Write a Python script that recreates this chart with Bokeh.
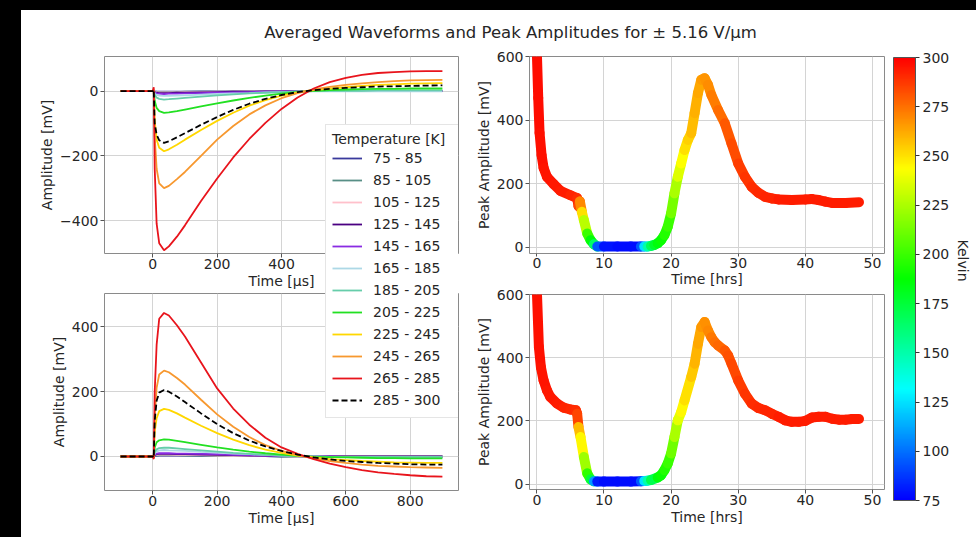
import colorsys
import math

from bokeh.plotting import figure
from bokeh.models import (ColumnDataSource, Legend, LegendItem, FixedTicker, Range1d,
                          ColorBar, LinearColorMapper, Label, GridBox, CustomJSTickFormatter)
from bokeh.layouts import column, row
from bokeh.transform import linear_cmap
from bokeh.embed import file_html
from bokeh.resources import INLINE

# ---------------- data ----------------
TITLE = "Averaged Waveforms and Peak Amplitudes for \u00b1 5.16 V/\u03bcm"

TEMP_BINS = ["75 - 85", "85 - 105", "105 - 125", "125 - 145", "145 - 165", "165 - 185",
             "185 - 205", "205 - 225", "225 - 245", "245 - 265", "265 - 285", "285 - 300"]
BIN_COLORS = ["#3a3a9c", "#588f86", "#ffc0cb", "#4b0082", "#8a2be2", "#add8e6",
              "#66cdaa", "#22e022", "#ffd700", "#f7982f", "#e8141c", "#000000"]

# waveform sample times [us]
WF_T = [-100, 0, 3, 6, 12, 20, 35, 50, 75, 100, 150, 200, 250, 300, 350, 400, 450,
        500, 550, 600, 650, 700, 750, 800, 850, 900]

# negative-polarity averaged waveforms [mV], one list per temperature bin
WF_NEG = [
    [0, 0, 0, -1, -2, -2, -2, -2, -2, -2, -1, -1, -1, -1, 0, 0, 0, 0, 0, 0, 0, 0, 0, 0, 0, 0],
    [0, 0, 0, -1, -2, -3, -3, -3, -3, -2, -2, -2, -1, -1, -1, 0, 0, 0, 0, 0, 0, 0, 0, 0, 0, 0],
    [0, 0, 0, -2, -3, -4, -4, -4, -4, -3, -3, -2, -2, -1, -1, 0, 0, 0, 0, 0, 0, 0, 0, 0, 0, 0],
    [0, 0, 0, -3, -5, -6, -6, -6, -5, -5, -4, -3, -2, -2, -1, -1, 0, 0, 0, 0, 0, 0, 0, 0, 0, 0],
    [0, 0, 1, -4, -7, -8, -9, -8, -8, -7, -6, -5, -4, -3, -2, -1, -1, 0, 0, 0, 0, 0, 0, 0, 0, 0],
    [0, 0, 1, -8, -12, -14, -15, -15, -14, -13, -11, -9, -7, -6, -4, -3, -2, -1, -1, -1, -1, -1, -1, -1, -1, -1],
    [0, 0, 1, -12, -20, -24, -26, -25, -23, -21, -17, -13, -10, -7, -5, -3, -1, 0, 1, 1, 1, 2, 2, 2, 2, 2],
    [0, 0, 2, -30, -52, -62, -67, -66, -62, -57, -47, -38, -29, -21, -14, -8, -3, 1, 3, 5, 6, 7, 7, 8, 8, 8],
    [0, 0, 3, -90, -150, -175, -186, -180, -166, -150, -120, -92, -67, -45, -28, -14, -4, 3, 8, 12, 16, 19, 21, 23, 24, 25],
    [0, 0, 5, -140, -240, -285, -300, -293, -272, -250, -200, -150, -108, -72, -44, -22, -6, 5, 13, 19, 24, 28, 31, 33, 34, 35],
    [0, 0, 12, -240, -410, -470, -492, -480, -450, -415, -340, -270, -205, -148, -98, -55, -20, 8, 28, 41, 50, 56, 59, 61, 62, 62],
    [0, 0, 5, -100, -135, -152, -160, -155, -143, -130, -104, -80, -58, -39, -24, -12, -3, 3, 7, 10, 12, 14, 15, 16, 17, 18],
]

# positive-polarity averaged waveforms [mV]
WF_POS = [
    [0, 0, 0, 1, 2, 3, 3, 3, 3, 3, 2, 2, 1, 1, 1, 0, 0, 0, 0, 0, 0, 0, 0, 0, 0, 0],
    [0, 0, 0, 2, 3, 4, 4, 4, 4, 3, 3, 2, 2, 1, 1, 0, 0, 0, 0, 0, 0, 0, 0, 0, 0, 0],
    [0, 0, 0, 3, 5, 6, 6, 6, 5, 5, 4, 3, 2, 2, 1, 1, 0, 0, 0, 0, 0, 0, 0, 0, 0, 0],
    [0, 0, 0, 4, 7, 8, 8, 8, 7, 7, 6, 5, 4, 3, 2, 1, 1, 0, 0, 0, 0, 0, 0, 0, 0, 0],
    [0, 0, 0, 5, 9, 10, 10, 10, 9, 9, 8, 7, 5, 4, 3, 2, 1, 0, 0, -1, -1, -1, -1, -1, -1, -1],
    [0, 0, -1, 10, 16, 19, 20, 19, 18, 17, 14, 12, 9, 7, 5, 3, 1, 0, -1, -1, -1, -1, -1, -1, -1, -1],
    [0, 0, -1, 14, 22, 26, 27, 27, 25, 23, 19, 15, 11, 8, 5, 3, 1, 0, -1, -1, -1, -1, -1, -1, -1, -1],
    [0, 0, -2, 28, 44, 50, 53, 52, 48, 44, 36, 28, 21, 15, 10, 6, 2, -1, -2, -3, -4, -5, -5, -6, -6, -6],
    [0, 0, -3, 75, 118, 140, 147, 144, 133, 120, 95, 72, 52, 35, 21, 11, 3, -3, -8, -11, -14, -16, -18, -19, -20, -20],
    [0, 0, -4, 125, 212, 253, 265, 260, 242, 222, 175, 130, 92, 60, 35, 17, 4, -6, -14, -20, -25, -29, -31, -33, -34, -35],
    [0, 0, -8, 200, 345, 425, 443, 435, 405, 370, 290, 210, 148, 98, 58, 28, 8, -8, -22, -33, -42, -49, -54, -58, -61, -62],
    [0, 0, -4, 110, 172, 197, 205, 200, 185, 168, 133, 100, 72, 49, 31, 17, 6, -3, -9, -14, -17, -20, -22, -24, -25, -25],
]

# peak amplitude vs time, negative polarity
PK1_HRS = [0, 0.2, 0.4, 0.7, 1.0, 1.5, 2.5, 3.5, 5.0, 6.0,
           6.2, 6.4, 6.7, 7.0, 7.5, 8.0, 8.5, 9.0, 10, 12,
           14, 15.5, 16.0, 16.5, 17.0, 17.5, 18.0, 18.5, 19.0, 19.5,
           20.0, 20.5, 21.0, 21.5, 22.0, 22.5, 23.0, 23.5, 24.0, 24.5,
           25.0, 25.5, 26.0, 27.0, 28.0, 29.0, 30.0, 31.0, 32.0, 33.0,
           34.0, 35.0, 36.0, 38.0, 40.0, 41.0, 42.0, 43.0, 44.0, 46.0,
           48.0]
PK1_MV = [610, 470, 360, 290, 250, 222, 199, 178, 164, 155,
          130, 145, 112, 86, 44, 23, 10, 3, 3, 3,
          3, 3, 3, 3, 5, 8, 13, 23, 39, 65,
          107, 170, 222, 264, 306, 338, 359, 422, 485, 527,
          532, 511, 479, 432, 390, 327, 264, 222, 191, 172,
          159, 154, 151, 149, 151, 152, 149, 144, 140, 140,
          142]
PK1_K = [297, 297, 296, 296, 295, 295, 294, 293, 292, 290,
         284, 270, 250, 228, 200, 185, 165, 95, 80, 78,
         78, 95, 125, 150, 168, 178, 185, 190, 195, 200,
         213, 225, 236, 243, 250, 254, 258, 261, 263, 265,
         267, 269, 272, 276, 280, 283, 286, 288, 290, 291,
         292, 292, 293, 293, 293, 293, 293, 293, 293, 293,
         293]

# peak amplitude vs time, positive polarity
PK2_HRS = [0, 0.3, 0.6, 1.0, 1.5, 2.0, 3.0, 4.0, 5.0, 5.8,
           6.0, 6.2, 6.5, 7.0, 7.5, 8.0, 8.5, 9.0, 10, 12,
           14, 15.5, 16.0, 16.5, 17.0, 18.0, 18.5, 19.0, 19.5, 20.0,
           20.5, 21.0, 21.5, 22.0, 23.0, 23.5, 24.0, 24.5, 25.0, 25.5,
           26.0, 26.5, 27.0, 28.0, 28.5, 29.0, 30.0, 31.0, 32.0, 33.0,
           34, 35, 36, 37, 38, 39, 40, 41, 42, 43,
           44, 45, 46, 47, 48]
PK2_MV = [610, 434, 370, 328, 297, 276, 255, 242, 236, 234,
          223, 181, 149, 86, 34, 15, 9, 8, 8, 8,
          8, 9, 10, 11, 13, 21, 28, 44, 65, 97,
          149, 202, 228, 265, 339, 381, 444, 497, 513, 486,
          465, 449, 439, 423, 407, 381, 328, 286, 255, 241,
          234, 223, 213, 202, 197, 197, 200, 211, 213, 213,
          207, 204, 204, 206, 206]
PK2_K = [296, 296, 295, 295, 294, 294, 293, 292, 291, 290,
         285, 258, 245, 222, 198, 175, 110, 82, 78, 78,
         78, 95, 125, 150, 170, 185, 190, 195, 200, 212,
         225, 238, 245, 250, 256, 260, 263, 266, 268, 270,
         273, 275, 277, 280, 282, 284, 286, 288, 290, 291,
         292, 292, 293, 293, 293, 293, 293, 293, 293, 293,
         293, 293, 293, 293, 293]

WF_XTICKS = [0, 200, 400, 600, 800]
WF_NEG_YTICKS = [-400, -200, 0]
WF_POS_YTICKS = [0, 200, 400]
PK_XTICKS = [0, 10, 20, 30, 40, 50]
PK_YTICKS = [0, 200, 400, 600]
CB_TICKS = [75, 100, 125, 150, 175, 200, 225, 250, 275, 300]
K_LOW, K_HIGH = 75, 300

# ---------------- style ----------------
FONT = "DejaVu Sans"
TXT = "#262626"
FS = "14px"

# rainbow palette: blue (low) -> red (high)
PALETTE = []
for i in range(256):
    h = (240.0 * (1 - i / 255.0)) / 360.0
    r, g, b = colorsys.hsv_to_rgb(h, 1.0, 1.0)
    PALETTE.append("#%02x%02x%02x" % (int(round(r * 255)), int(round(g * 255)), int(round(b * 255))))

MINUS = CustomJSTickFormatter(code="return tick < 0 ? '\\u2212' + Math.abs(tick) : String(tick);")


def blank_fig(w, h):
    p = figure(width=w, height=h, x_range=Range1d(0, 1), y_range=Range1d(0, 1),
               output_backend="svg", toolbar_location=None, min_border=0,
               x_axis_location=None, y_axis_location=None)
    p.outline_line_color = None
    p.grid.visible = False
    return p


def make_fig(w, h, xr, yr, bl, br, bt, bb, xticks, yticks, xlabel, ylabel):
    p = figure(width=w, height=h, x_range=Range1d(*xr), y_range=Range1d(*yr),
               output_backend="svg", toolbar_location=None,
               min_border_left=bl, min_border_right=br, min_border_top=bt, min_border_bottom=bb)
    p.xaxis.ticker = FixedTicker(ticks=xticks)
    p.yaxis.ticker = FixedTicker(ticks=yticks)
    p.xaxis.axis_label = xlabel
    p.yaxis.axis_label = ylabel
    for ax in (p.xaxis[0], p.yaxis[0]):
        ax.formatter = MINUS
        ax.axis_line_color = None
        ax.major_tick_line_color = "#555555"
        ax.major_tick_out = 4
        ax.major_tick_in = 0
        ax.minor_tick_line_color = None
        ax.major_label_text_font = FONT
        ax.major_label_text_font_size = FS
        ax.major_label_text_color = TXT
        ax.major_label_standoff = 2
        ax.axis_label_text_font = FONT
        ax.axis_label_text_font_size = FS
        ax.axis_label_text_font_style = "normal"
        ax.axis_label_text_color = TXT
        ax.axis_label_standoff = 2
    p.xaxis.major_label_standoff = 1
    p.xaxis.axis_label_standoff = 1
    p.xgrid.ticker = FixedTicker(ticks=xticks)
    p.ygrid.ticker = FixedTicker(ticks=yticks)
    p.grid.grid_line_color = "#d4d4d4"
    p.grid.grid_line_width = 1
    p.outline_line_color = "#8a8a8a"
    p.background_fill_color = "white"
    p.border_fill_color = "white"
    return p


def add_waves(p, series):
    rs = []
    for vals, col in zip(series, BIN_COLORS):
        dash = "6 3" if col == "#000000" else "solid"
        r = p.line(WF_T, vals, line_color=col, line_width=1.8, line_dash=dash)
        rs.append(r)
    return rs


# ---------- title ----------
tfig = blank_fig(955, 36)
tfig.add_layout(Label(x=489, y=14, x_units="screen", y_units="screen", text=TITLE,
                      text_align="center", text_baseline="middle",
                      text_font=FONT, text_font_size="16.5px", text_color=TXT))

# ---------- waveform panels ----------
tl = make_fig(449, 247, (-150, 950), (-502, 107), 83, 12, 10, 40,
              WF_XTICKS, WF_NEG_YTICKS, "Time [\u03bcs]", "Amplitude [mV]")
add_waves(tl, WF_NEG)

bl = make_fig(449, 243, (-150, 950), (-105, 503), 83, 12, 0, 46,
              WF_XTICKS, WF_POS_YTICKS, "Time [\u03bcs]", "Amplitude [mV]")
add_waves(bl, WF_POS)

# transparent overlay that carries the shared legend across both waveform panels
# (its frame is aligned by the grid with the waveform frames)
ov = blank_fig(449, 490)
ov.background_fill_color = None
ov.border_fill_color = None
ov_rs = add_waves(ov, WF_POS)
for r in ov_rs:
    r.visible = False
legend = Legend(items=[LegendItem(label=lab, renderers=[r]) for lab, r in zip(TEMP_BINS, ov_rs)],
                location=(221, 72), title="Temperature [K]",
                title_text_font=FONT, title_text_font_size=FS, title_text_font_style="normal",
                title_text_color=TXT, title_standoff=0,
                label_text_font=FONT, label_text_font_size=FS, label_text_color=TXT,
                glyph_width=30, glyph_height=22, label_height=22, label_width=80, spacing=0,
                padding=6, label_standoff=11, margin=0, click_policy="none",
                border_line_color="#cccccc", border_line_width=1,
                background_fill_color="white", background_fill_alpha=1.0)
ov.add_layout(legend)

# ---------- peak amplitude panels ----------
cmap = linear_cmap("k", PALETTE, K_LOW, K_HIGH)


def add_peaks(p, hrs, mv, kel):
    src = ColumnDataSource(dict(x0=hrs[:-1], y0=mv[:-1], x1=hrs[1:], y1=mv[1:], k=kel[:-1]))
    p.segment("x0", "y0", "x1", "y1", source=src, line_color=cmap, line_width=10, line_cap="round")


tr = make_fig(418, 243, (-1.1, 51.8), (-19, 600), 59, 4, 10, 36,
              PK_XTICKS, PK_YTICKS, "Time [hrs]", "Peak Amplitude [mV]")
tr.xaxis.major_tick_out = 3
tr.xaxis.axis_label_standoff = 0
add_peaks(tr, PK1_HRS, PK1_MV, PK1_K)

br = make_fig(418, 247, (-1.1, 51.8), (-17, 600), 59, 4, 5, 47,
              PK_XTICKS, PK_YTICKS, "Time [hrs]", "Peak Amplitude [mV]")
add_peaks(br, PK2_HRS, PK2_MV, PK2_K)

# ---------- colour bar ----------
cf = blank_fig(88, 490)
mapper = LinearColorMapper(palette=PALETTE, low=K_LOW, high=K_HIGH)
cb = ColorBar(color_mapper=mapper, location=(5, 36), width=22, height=443, padding=0,
              ticker=FixedTicker(ticks=CB_TICKS),
              major_label_text_font=FONT, major_label_text_font_size=FS,
              major_label_text_color=TXT, label_standoff=3,
              major_tick_line_color="#333333", major_tick_out=4, major_tick_in=0,
              minor_tick_line_color=None, bar_line_color="#555555",
              background_fill_color=None, border_line_color=None)
cf.add_layout(cb)
cf.add_layout(Label(x=74, y=276, x_units="screen", y_units="screen", text="Kelvin",
                    angle=-math.pi / 2, text_align="center", text_baseline="middle",
                    text_font=FONT, text_font_size=FS, text_color=TXT))

left = GridBox(children=[(tl, 0, 0), (bl, 1, 0), (ov, 0, 0, 2, 1)], spacing=0)
right = column(tr, br, spacing=0)

layout = column(tfig, row(left, right, cf, spacing=0), spacing=0)

TEMPLATE = ('{% block inner_head %}{{ super() }}<style>'
            'html{background:linear-gradient(#000,#000) 0 0/100% 10px no-repeat,'
            'linear-gradient(#000,#000) 0 0/21px 100% no-repeat,#fff !important;}'
            'body{background:transparent !important;margin:0 !important;'
            'padding:10px 0 0 21px !important;box-sizing:border-box;}'
            '</style>{% endblock %}')

open("out.html", "w").write(file_html(layout, INLINE, title="chart", template=TEMPLATE))
